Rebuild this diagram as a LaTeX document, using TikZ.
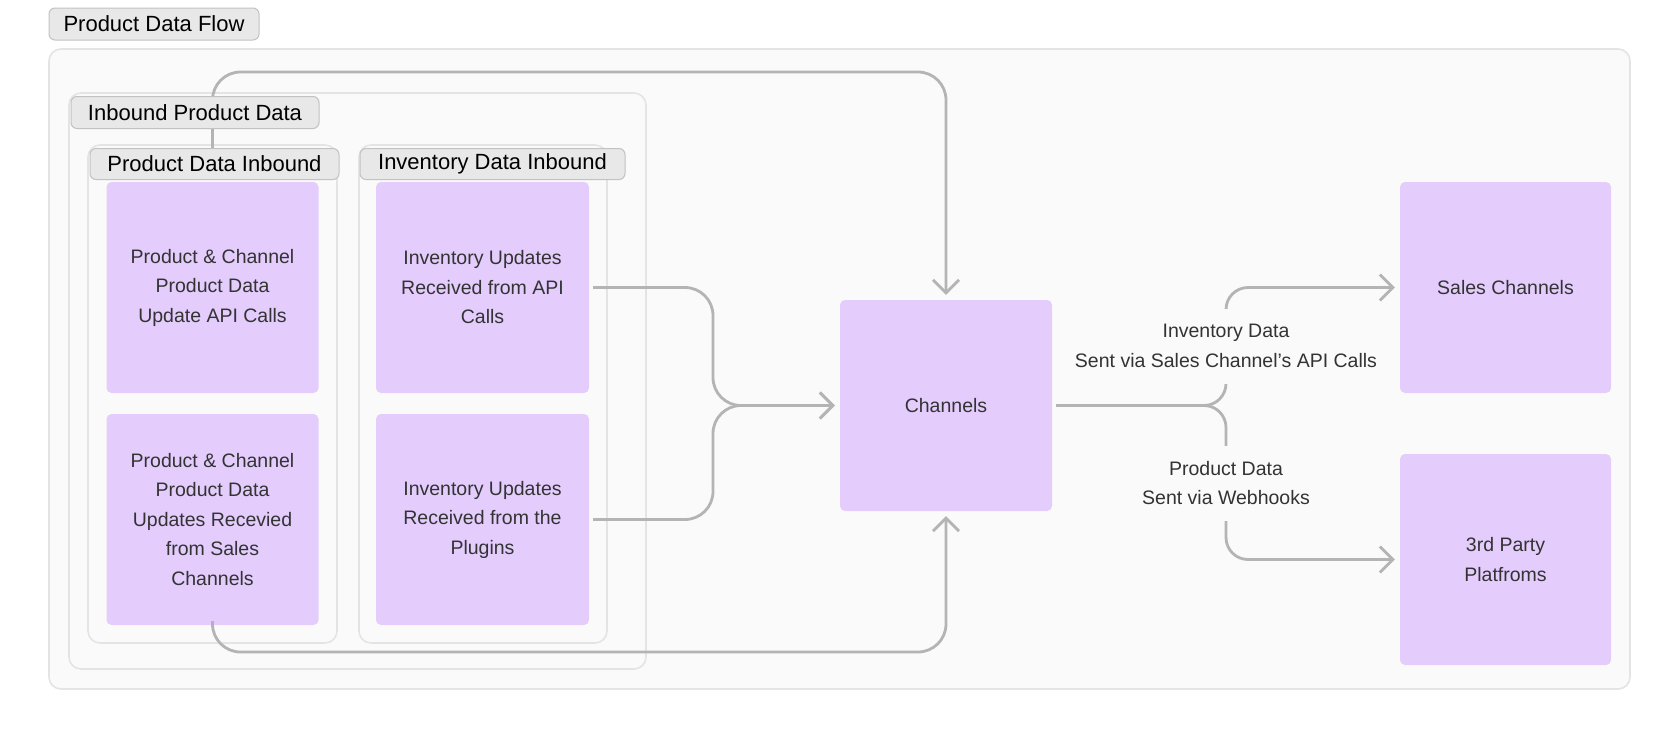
\documentclass[tikz,border=0pt]{standalone}
\usepackage{fontspec}
\setmainfont{Liberation Sans}
\usetikzlibrary{arrows.meta}
\definecolor{boxfill}{HTML}{E4CCFD}
\definecolor{contfill}{HTML}{FAFAFA}
\definecolor{contline}{HTML}{E4E4E4}
\definecolor{labfill}{HTML}{E8E8E8}
\definecolor{labline}{HTML}{C2C2C2}
\definecolor{conncol}{HTML}{B4B4B4}
\definecolor{txt}{HTML}{333333}
\begin{document}
\begin{tikzpicture}[x=1pt,y=-1pt,
  pbox/.style={fill=boxfill, rounded corners=5pt, minimum width=212pt, minimum height=211pt,
    align=center, text=txt, font=\fontsize{19.5}{29.5}\selectfont, inner sep=0pt},
  cont/.style={fill=contfill, draw=contline, line width=1.6pt, rounded corners=12pt},
  lab/.style={fill=labfill, draw=labline, line width=1pt, rounded corners=6pt,
    font=\fontsize{22}{26}\selectfont, text=black, inner sep=0pt},
  conn/.style={draw=conncol, line width=2.8pt, rounded corners=28pt},
  arr/.style={-{Straight Barb[length=13pt,width=26pt,line width=2.8pt]}, shorten >=5pt},
  elab/.style={fill=contfill, align=center, text=txt, font=\fontsize{19.5}{29.5}\selectfont,
    inner sep=2pt, minimum height=75pt}
]
\useasboundingbox (0,0) rectangle (1680,739);
\fill[white] (0,0) rectangle (1680,739);

% containers
\draw[cont] (49,49) rectangle (1630,689);
\draw[cont] (69,93) rectangle (646,669);
\draw[cont] (88,145) rectangle (337,643);
\draw[cont] (359,145) rectangle (607,643);

% boxes
\node[pbox] (p1) at (212.5,287.5) {Product \& Channel\\Product Data\\Update API Calls};
\node[pbox] (p2) at (212.5,519.5) {Product \& Channel\\Product Data\\Updates Recevied\\from Sales\\Channels};
\node[pbox, minimum width=213pt] (i1) at (482.5,287.5) {Inventory Updates\\Received from API\\Calls};
\node[pbox, minimum width=213pt] (i2) at (482.5,519.5) {Inventory Updates\\Received from the\\Plugins};
\node[pbox] (ch) at (946,405.5) {Channels};
\node[pbox, minimum width=211pt] (sc) at (1505.5,287.5) {Sales Channels};
\node[pbox, minimum width=211pt] (tp) at (1505.5,559.5) {3rd Party\\Platfroms};

% helper coordinates
\coordinate (tt) at (0,72);
\coordinate (bb) at (0,652);
\coordinate (mx) at (713,405.5);
\coordinate (jx) at (1226,405.5);

% connectors
\draw[conn,arr,shorten <=2pt] (p1.north) |- (ch.north |- tt) -- (ch.north);
\draw[conn,arr,shorten <=4pt] (p2.south) |- (ch.south |- bb) -- (ch.south);
\draw[conn,arr,shorten <=4pt] (i1.east) -| (mx) -- (ch.west);
\draw[conn,arr,shorten <=4pt] (i2.east) -| (mx) -- (ch.west);
\begin{scope}[conn/.append style={rounded corners=22pt}]
\draw[conn,arr,shorten <=4pt] (ch.east) -| (sc.west -| jx) -- (sc.west);
\draw[conn,arr,shorten <=4pt] (ch.east) -| (tp.west -| jx) -- (tp.west);
\end{scope}

% edge labels
\node[elab] (l1) at (1226,346) {Inventory Data\\Sent via Sales Channel’s API Calls};
\node[elab] (l2) at (1226,483) {Product Data\\Sent via Webhooks};

% group labels
\node[lab, minimum width=210pt, minimum height=32pt] (gt) at (154,24) {Product Data Flow};
\node[lab, minimum width=248pt, minimum height=32pt] (gi) at (195,112.5) {Inbound Product Data};
\node[lab, minimum width=249pt, minimum height=31pt] (gp) at (214.5,164) {Product Data Inbound};
\node[lab, minimum width=265pt, minimum height=31pt] (gv) at (492.5,164) {Inventory Data Inbound};
\end{tikzpicture}
\end{document}
